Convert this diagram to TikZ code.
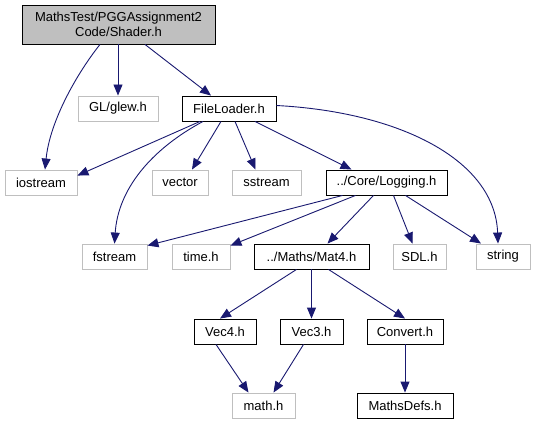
\documentclass[tikz,border=0pt]{standalone}
\usepackage{fontspec}
\setmainfont{Liberation Sans}
\usetikzlibrary{arrows.meta,calc}
\definecolor{edgec}{HTML}{191970}
\definecolor{extb}{HTML}{BFBFBF}
\begin{document}
\begin{tikzpicture}[x=1pt,y=-1pt,
  box/.style={draw=black,line width=0.9pt,minimum height=25pt,inner sep=0pt,
    font=\fontsize{13}{15}\selectfont,align=center},
  ext/.style={box,draw=extb},
  edge/.style={draw=edgec,line width=0.9pt,-{Triangle[length=11pt,width=9pt]},fill=none}]
\useasboundingbox (0,0) rectangle (537,425);
\node[box,fill=extb,minimum width=193pt,minimum height=39pt] (shader) at (118.5,24.5) {MathsTest/PGGAssignment2\\Code/Shader.h};
\node[ext,minimum width=80pt] (glew) at (118,108.5) {GL/glew.h};
\node[box,minimum width=94pt] (fl) at (229,108.5) {FileLoader.h};
\node[ext,minimum width=72pt] (iostream) at (41,182.5) {iostream};
\node[ext,minimum width=56pt] (vector) at (180,182.5) {vector};
\node[ext,minimum width=69pt] (sstream) at (266.5,182.5) {sstream};
\node[box,minimum width=121pt] (logging) at (386.5,182.5) {../Core/Logging.h};
\node[ext,minimum width=65pt] (fstream) at (114.5,256.5) {fstream};
\node[ext,minimum width=58pt] (timeh) at (201,256.5) {time.h};
\node[box,minimum width=115pt] (mat4) at (311.5,256.5) {../Maths/Mat4.h};
\node[ext,minimum width=53pt] (sdl) at (419.5,256.5) {SDL.h};
\node[ext,minimum width=54pt] (string) at (503,256.5) {string};
\node[box,minimum width=62pt] (vec4) at (225,331.5) {Vec4.h};
\node[box,minimum width=63pt] (vec3) at (311.5,331.5) {Vec3.h};
\node[box,minimum width=76pt] (convert) at (405,331.5) {Convert.h};
\node[ext,minimum width=63pt] (mathh) at (263.5,405.5) {math.h};
\node[box,minimum width=96pt] (mathsdefs) at (405,405.5) {MathsDefs.h};
% edges
\draw[edge] ($(shader.south)+(-18.5,0)$) .. controls (78,72) and (50,120) .. ($(iostream.north)+(4,0)$);
\draw[edge] (shader.south -| glew.north) -- (glew.north);
\draw[edge] ($(shader.south)+(26.5,0)$) -- ($(fl.north)+(-18,0)$);
\draw[edge] ($(fl.south)+(-29,0)$) -- ($(iostream.north east)+(0,6)$);
\draw[edge] ($(fl.south)+(-26,0)$) .. controls (150,150) and (118,190) .. ($(fstream.north)+(0,0)$);
\draw[edge] ($(fl.south)+(-8,0)$) -- ($(vector.north)+(12,0)$);
\draw[edge] ($(fl.south)+(6,0)$) -- ($(sstream.north)+(-11,0)$);
\draw[edge] ($(fl.south)+(26,0)$) -- ($(logging.north)+(-35,0)$);
\draw[edge] ($(fl.east)+(0,-3)$) .. controls (400,112) and (495,160) .. ($(string.north)+(-5,0)$);
\draw[edge] ($(logging.south)+(-44,0)$) -- ($(fstream.north east)+(0,2)$);
\draw[edge] ($(logging.south)+(-31,0)$) -- ($(timeh.north east)+(0,2)$);
\draw[edge] ($(logging.south)+(-13,0)$) -- ($(mat4.north)+(16,0)$);
\draw[edge] ($(logging.south)+(7,0)$) -- ($(sdl.north)+(-7,0)$);
\draw[edge] ($(logging.south)+(19,0)$) -- ($(string.north)+(-22,0)$);
\draw[edge] ($(mat4.south)+(-15,0)$) -- ($(vec4.north)+(-5,0)$);
\draw[edge] (mat4.south -| vec3.north) -- (vec3.north);
\draw[edge] ($(mat4.south)+(17,0)$) -- ($(convert.north)+(0,0)$);
\draw[edge] ($(vec4.south)+(-9,0)$) -- ($(mathh.north)+(-15,0)$);
\draw[edge] ($(vec3.south)+(-8,0)$) -- ($(mathh.north)+(10,0)$);
\draw[edge] (convert.south) -- (mathsdefs.north);
\end{tikzpicture}
\end{document}
